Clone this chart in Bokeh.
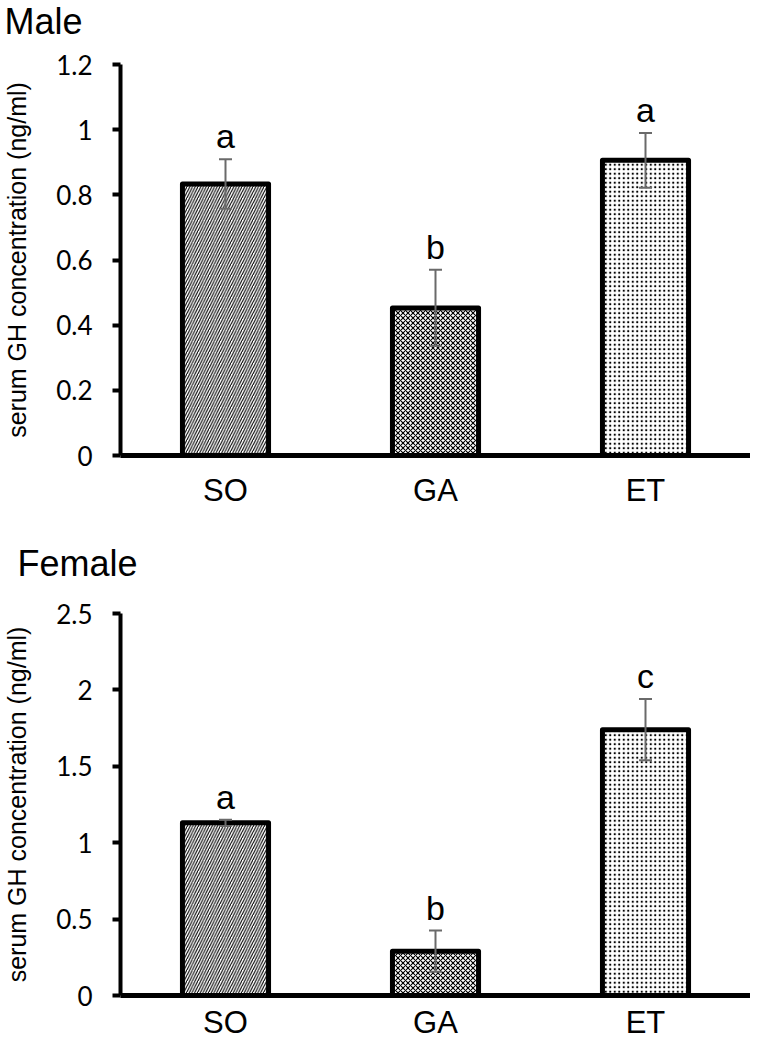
from bokeh.plotting import figure
from bokeh.models import (ColumnDataSource, FixedTicker, CustomJSTickFormatter,
                          Whisker, TeeHead, FactorRange, Range1d, Title)
from bokeh.layouts import column
from bokeh.core.properties import value
from bokeh.embed import file_html
from bokeh.resources import INLINE

categories = ["SO", "GA", "ET"]

male_mean = [0.833, 0.453, 0.906]
male_err = [0.076, 0.117, 0.084]
male_letters = ["a", "b", "a"]
male_ticks = [0, 0.2, 0.4, 0.6, 0.8, 1.0, 1.2]

female_mean = [1.13, 0.29, 1.74]
female_err = [0.02, 0.135, 0.2]
female_letters = ["a", "b", "c"]
female_ticks = [0, 0.5, 1.0, 1.5, 2.0, 2.5]

hatches = ["right_diagonal_line", "diagonal_cross", "dot"]
hatch_scales = [5.5, 5.0, 4.5]


def make_panel(title, means, errs, letters, ticks, ymax, height,
               border_bottom, title_offset, title_standoff, spacer_standoff,
               x_standoff):
    src = ColumnDataSource(dict(
        x=categories,
        top=means,
        upper=[m + e for m, e in zip(means, errs)],
        lower=[m - e for m, e in zip(means, errs)],
        letter=letters,
        hatch=hatches,
        hscale=hatch_scales,
    ))
    p = figure(x_range=FactorRange(factors=categories, range_padding=0),
               y_range=Range1d(0, ymax), title=None,
               width=750, height=height, output_backend="svg",
               toolbar_location=None,
               min_border_left=118, min_border_right=0,
               min_border_top=10, min_border_bottom=border_bottom)
    p.outline_line_color = None
    p.xgrid.grid_line_color = None
    p.ygrid.grid_line_color = None

    # invisible spacer between the frame and the title
    p.add_layout(Title(text=" ", text_font_size="10px",
                       standoff=spacer_standoff, vertical_align="top"),
                 "above")
    p.add_layout(Title(text=title, text_font="Liberation Sans",
                       text_font_size="36px", text_font_style="normal",
                       text_color="black", align="left", offset=title_offset,
                       vertical_align="top", standoff=title_standoff),
                 "above")

    p.vbar(x="x", top="top", bottom=0, width=0.41, source=src,
           fill_color="white", line_color="black", line_width=5,
           line_join="round",
           hatch_pattern="hatch", hatch_scale="hscale",
           hatch_color="black", hatch_weight=1.1)

    w = Whisker(base="x", upper="upper", lower="lower", source=src,
                line_color="#6a6a6a", line_width=2, level="overlay",
                upper_head=TeeHead(size=13, line_color="#6a6a6a", line_width=2),
                lower_head=TeeHead(size=13, line_color="#6a6a6a", line_width=2))
    p.add_layout(w)

    p.text(x="x", y="upper", text="letter", source=src,
           text_align="center", text_baseline="alphabetic", y_offset=-23,
           text_font=value("Liberation Sans"), text_font_size=value("34px"),
           text_color="black")

    ya = p.yaxis[0]
    ya.ticker = FixedTicker(ticks=ticks)
    ya.formatter = CustomJSTickFormatter(
        code="return tick.toFixed(1).replace(/\\.0$/, '');")
    ya.axis_line_width = 4
    ya.axis_line_color = "black"
    ya.major_tick_line_width = 4
    ya.major_tick_line_color = "black"
    ya.major_tick_out = 8
    ya.major_tick_in = 0
    ya.minor_tick_line_color = None
    ya.major_label_text_font = "Lato"
    ya.major_label_text_font_size = "26px"
    ya.major_label_text_color = "black"
    ya.major_label_standoff = 20
    ya.axis_label = "serum GH concentration (ng/ml)"
    ya.axis_label_text_font = "Liberation Sans"
    ya.axis_label_text_font_size = "25px"
    ya.axis_label_text_font_style = "normal"
    ya.axis_label_text_color = "black"
    ya.axis_label_standoff = 22

    xa = p.xaxis[0]
    xa.axis_line_width = 5
    xa.axis_line_color = "black"
    xa.major_tick_line_color = None
    xa.major_tick_out = 0
    xa.major_tick_in = 0
    xa.minor_tick_line_color = None
    xa.major_label_text_font = "Liberation Sans"
    xa.major_label_text_font_size = "31px"
    xa.major_label_text_color = "black"
    xa.major_label_standoff = x_standoff
    return p


male = make_panel("Male", male_mean, male_err, male_letters, male_ticks, 1.2,
                  height=530, border_bottom=75, title_offset=-116,
                  title_standoff=0, spacer_standoff=8, x_standoff=17)
female = make_panel("Female", female_mean, female_err, female_letters,
                    female_ticks, 2.5,
                    height=512, border_bottom=40, title_offset=-103,
                    title_standoff=24, spacer_standoff=3, x_standoff=9)

layout = column(male, female, spacing=0)
open("out.html", "w").write(file_html(layout, INLINE))
